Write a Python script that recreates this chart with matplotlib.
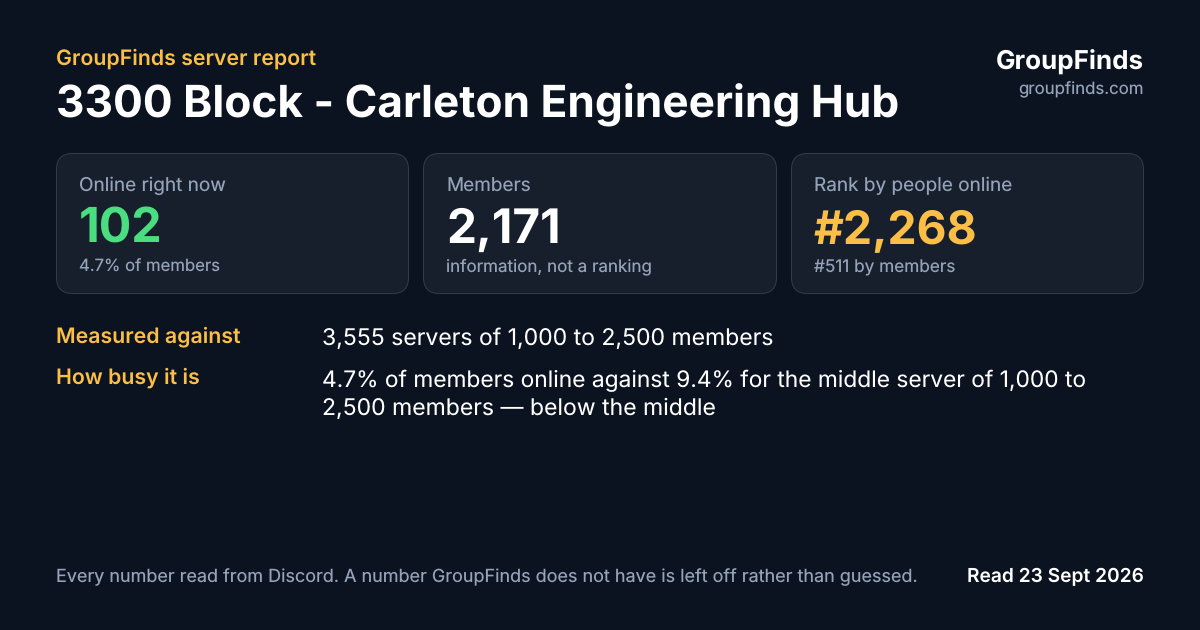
import matplotlib
matplotlib.use("Agg")
from matplotlib import pyplot as plt
from matplotlib.patches import FancyBboxPatch

BG = "#0b1220"
CARD = "#171f2d"
EDGE = "#333b48"
AMBER = "#fbbf47"
GREEN = "#4ade80"
WHITE = "#ffffff"
GREY = "#94a3b8"

# Text content
eyebrow = "GroupFinds server report"
title = "3300 Block - Carleton Engineering Hub"
brand = "GroupFinds"
brand_url = "groupfinds.com"

card_labels = ["Online right now", "Members", "Rank by people online"]
card_values = ["102", "2,171", "#2,268"]
card_notes = ["4.7% of members", "information, not a ranking", "#511 by members"]
card_colors = [GREEN, WHITE, AMBER]
card_lefts = [56.5, 423.5, 791.5]
card_rights = [408.5, 776.5, 1143.5]
# no GPOS kerning in matplotlib, so the wider strings get a touch less size
value_sizes = [48.2, 47.6, 46.2]
note_sizes = [16.7, 17, 17.2]
# agg snaps text by its descent, so baselines need a nudge per string
label_y = [191, 192, 191]
note_y = [272, 271, 272]

row_labels = ["Measured against", "How busy it is"]
row_lines = [
    "3,555 servers of 1,000 to 2,500 members",
    "4.7% of members online against 9.4% for the middle server of 1,000 to",
    "2,500 members \u2014 below the middle",
]
row_label_y = [342, 384]
row_line_y = [345, 387, 415]
row_line_sizes = [23, 22.76, 23]

footer = "Every number read from Discord. A number GroupFinds does not have is left off rather than guessed."
read_date = "Read 23 Sept 2026"

plt.rcParams['font.family'] = ['Inter', 'DejaVu Sans']
plt.rcParams['text.hinting'] = 'no_hinting'
plt.rcParams['text.hinting_factor'] = 1

fig = plt.figure(figsize=(12, 6.3), dpi=100, facecolor=BG)
ax = fig.add_axes([0, 0, 1, 1])
ax.set_xlim(0, 1200)
ax.set_ylim(630, 0)
ax.axis("off")


def px(size):
    # css pixels to points
    return size * 0.72


ax.text(56, 65, eyebrow, color=AMBER, fontsize=px(21.3), fontweight="semibold", va="baseline")
ax.text(56, 117, title, color=WHITE, fontsize=px(44.2), fontweight="bold", va="baseline")
ax.text(1143.5, 70, brand, color=WHITE, fontsize=px(26), fontweight="bold", va="baseline", ha="right")
ax.text(1143.5, 94, brand_url, color=GREY, fontsize=px(16.8), va="baseline", ha="right")

for i in range(3):
    left = card_lefts[i]
    right = card_rights[i]
    box = FancyBboxPatch((left + 16, 153.5 + 16), right - left - 32, 140 - 32,
                         boxstyle="round,pad=16,rounding_size=16",
                         facecolor=CARD, edgecolor=EDGE, linewidth=0.72)
    ax.add_patch(box)
    ax.text(left + 22.5, label_y[i], card_labels[i], color=GREY, fontsize=px(19), va="baseline")
    ax.text(left + 22.5, 243, card_values[i], color=card_colors[i], fontsize=px(value_sizes[i]), fontweight="bold", va="baseline")
    ax.text(left + 22.5, note_y[i], card_notes[i], color=GREY, fontsize=px(note_sizes[i]), va="baseline")

for i in range(2):
    ax.text(56, row_label_y[i], row_labels[i], color=AMBER, fontsize=px(21.3), fontweight="semibold", va="baseline")

for i in range(3):
    ax.text(322.5, row_line_y[i], row_lines[i], color=WHITE, fontsize=px(row_line_sizes[i]), va="baseline")

ax.text(56, 582, footer, color=GREY, fontsize=px(18), va="baseline")
ax.text(1143.5, 582, read_date, color=WHITE, fontsize=px(19.2), fontweight="semibold", va="baseline", ha="right")

fig.savefig("out.png", dpi=100, facecolor=BG)
